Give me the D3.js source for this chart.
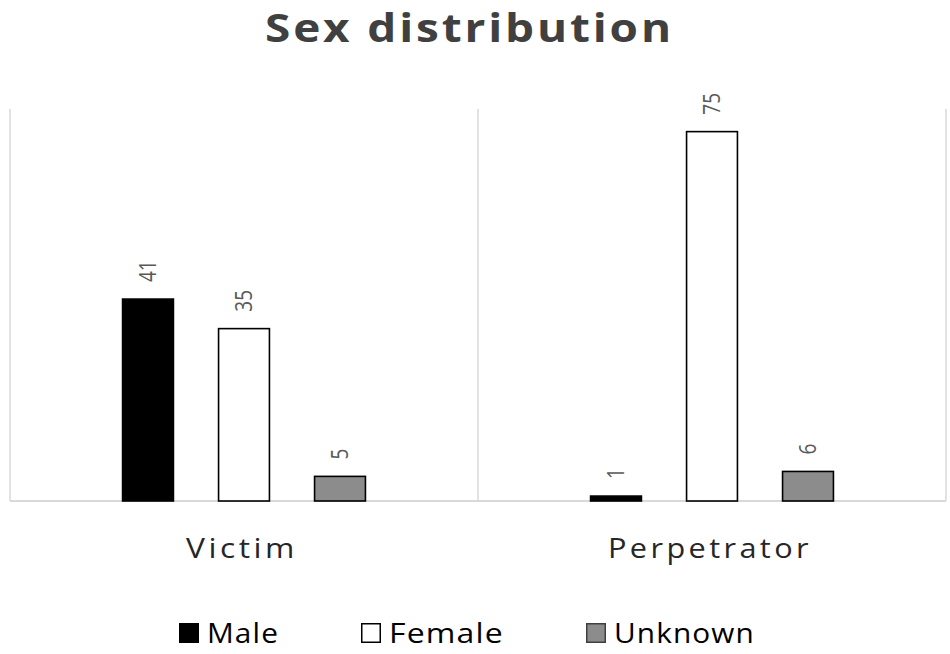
<!DOCTYPE html>
<html>
<head>
<meta charset="utf-8">
<script src="https://cdn.jsdelivr.net/npm/d3@7"></script>
<style>
  html, body { margin: 0; padding: 0; background: #ffffff; }
  svg { display: block; }
</style>
</head>
<body>
<script>
// ---- data ----
const categories = ["Victim", "Perpetrator"];
const series = ["Male", "Female", "Unknown"];
const maleValues = [41, 1];
const femaleValues = [35, 75];
const unknownValues = [5, 6];
const titleText = "Sex distribution";
const yMax = 80;

// ---- styles ----
const fills = { Male: "#000000", Female: "#ffffff", Unknown: "#8c8c8c" };
const fontFamily = "'Open Sans', 'Noto Sans', sans-serif";
const textWidths = { title: 409, Victim: 112, Perpetrator: 204, Male: 72, Female: 115, Unknown: 141 };

const W = 950, H = 654;
const svg = d3.select("body").append("svg").attr("width", W).attr("height", H);

const valuesBySeries = { Male: maleValues, Female: femaleValues, Unknown: unknownValues };
const rows = [];
categories.forEach((c, i) => series.forEach(s => rows.push({ cat: c, s, v: valuesBySeries[s][i] })));

const x0 = d3.scaleBand().domain(categories).range([10, 946]);
const bw = x0.bandwidth();
const x1 = d3.scaleBand().domain(series).range([bw / 2 - 144, bw / 2 + 144]).paddingInner(0.47).paddingOuter(0.235);
const y = d3.scaleLinear().domain([0, yMax]).range([501, 107]);

// helper: place text so its ink spans a target width (horizontal stretch like the reference)
function fitText(t, target, x, yy, anchor) {
  t.attr("x", 0).attr("y", 0).attr("text-anchor", "start");
  const w = t.node().getBBox().width;
  const sx = target / w;
  const left = anchor === "middle" ? x - target / 2 : x;
  t.attr("transform", `translate(${left},${yy}) scale(${sx},1)`);
}

// title
fitText(svg.append("text")
  .attr("font-family", fontFamily).attr("font-weight", "bold").attr("font-size", 40)
  .attr("letter-spacing", 2.5)
  .attr("fill", "#404040")
  .text(titleText), textWidths.title, 469.5, 41.5, "middle");

// vertical category dividers
const dividers = [x0.range()[0]].concat(categories.map(c => x0(c) + bw));
svg.append("g").selectAll("line").data(dividers).join("line")
  .attr("x1", d => d).attr("x2", d => d)
  .attr("y1", y(yMax) + 2).attr("y2", y(0))
  .attr("stroke", "#d9d9d9").attr("stroke-width", 1.5);

// baseline
svg.append("line")
  .attr("x1", x0.range()[0]).attr("x2", x0.range()[1])
  .attr("y1", y(0)).attr("y2", y(0))
  .attr("stroke", "#d9d9d9").attr("stroke-width", 2);

// bars
svg.append("g").selectAll("rect").data(rows).join("rect")
  .attr("x", d => x0(d.cat) + x1(d.s))
  .attr("y", d => y(d.v))
  .attr("width", x1.bandwidth())
  .attr("height", d => y(0) - y(d.v))
  .attr("fill", d => fills[d.s])
  .attr("stroke", "#000000").attr("stroke-width", 1.6);

// value labels (rotated)
svg.append("g").selectAll("text").data(rows).join("text")
  .attr("transform", d => `translate(${x0(d.cat) + x1(d.s) + x1.bandwidth() / 2},${y(d.v) - 17}) scale(1.2,1) rotate(-90)`)
  .attr("dy", "0.36em")
  .attr("text-anchor", "start")
  .attr("font-family", fontFamily).attr("font-size", 19)
  .attr("fill", "#595959")
  .text(d => d.v);

// category labels
const catG = svg.append("g");
categories.forEach(c => {
  fitText(catG.append("text")
    .attr("font-family", fontFamily).attr("font-size", 27)
    .attr("letter-spacing", 3)
    .attr("fill", "#262626")
    .text(c), textWidths[c], x0(c) + bw / 2 - 2, 558, "middle");
});

// legend
const sq = 20, sqGap = 8, itemGap = 82;
let lx = 179;
const legend = svg.append("g");
series.forEach(s => {
  legend.append("rect")
    .attr("x", lx + 0.75).attr("y", 623.75)
    .attr("width", sq - 1.5).attr("height", sq - 1.5)
    .attr("fill", fills[s])
    .attr("stroke", s === "Unknown" ? "#404040" : "#000000").attr("stroke-width", 1.5);
  fitText(legend.append("text")
    .attr("font-family", fontFamily).attr("font-size", 27)
    .attr("letter-spacing", 1)
    .attr("fill", "#000000")
    .text(s), textWidths[s], lx + sq + sqGap, 643, "start");
  lx += sq + sqGap + textWidths[s] + itemGap;
});
</script>
</body>
</html>
